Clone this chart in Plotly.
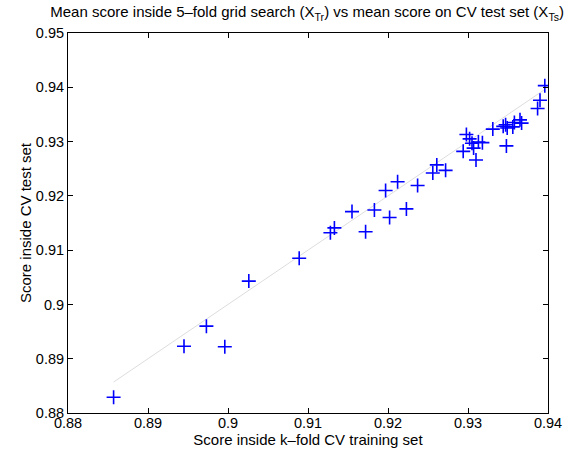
import plotly.graph_objects as go

train_scores = [0.8857, 0.8945, 0.8973, 0.8996, 0.9026, 0.9089, 0.9128, 0.9133, 0.9155, 0.9172,
                0.9183, 0.9197, 0.9202, 0.9212, 0.9223, 0.9237, 0.9256, 0.9261, 0.9272, 0.9294,
                0.9298, 0.9302, 0.9305, 0.9307, 0.9310, 0.9313, 0.9318, 0.9331, 0.9344, 0.9347,
                0.9349, 0.9348, 0.9356, 0.9358, 0.9365, 0.9367, 0.9387, 0.9390, 0.9396]
test_scores = [0.8829, 0.8923, 0.8960, 0.8922, 0.9043, 0.9085, 0.9132, 0.9141, 0.9171, 0.9134,
               0.9174, 0.9210, 0.9160, 0.9226, 0.9176, 0.9219, 0.9242, 0.9257, 0.9247, 0.9282,
               0.9313, 0.9305, 0.9297, 0.9288, 0.9266, 0.9299, 0.9298, 0.9323, 0.9328, 0.9331,
               0.9325, 0.9292, 0.9327, 0.9335, 0.9340, 0.9334, 0.9361, 0.9376, 0.9403]

x_ticks = [0.88, 0.89, 0.90, 0.91, 0.92, 0.93, 0.94]
x_tick_labels = ["0.88", "0.89", "0.9", "0.91", "0.92", "0.93", "0.94"]
y_ticks = [0.88, 0.89, 0.90, 0.91, 0.92, 0.93, 0.94, 0.95]
y_tick_labels = ["0.88", "0.89", "0.9", "0.91", "0.92", "0.93", "0.94", "0.95"]

lo, hi = min(train_scores), max(train_scores)

fig = go.Figure()
fig.add_trace(go.Scatter(x=[lo, hi], y=[lo, hi], mode="lines",
                         line=dict(color="#dddddd", width=1), showlegend=False, hoverinfo="skip"))
fig.add_trace(go.Scatter(x=train_scores, y=test_scores, mode="markers",
                         marker=dict(symbol="cross-thin-open", size=10, color="blue",
                                     line=dict(color="blue", width=1.6)),
                         showlegend=False))

axis_common = dict(showgrid=False, zeroline=False, showline=True, linecolor="black", linewidth=1,
                   mirror="allticks", ticks="inside", ticklen=5, tickcolor="black", tickwidth=1,
                   tickfont=dict(size=14.5, color="black"))

fig.update_layout(
    width=574, height=460,
    margin=dict(l=68, r=24, t=33, b=47),
    paper_bgcolor="white", plot_bgcolor="white",
    font=dict(family="Liberation Sans, Arial, sans-serif", size=15, color="black"),
    title=dict(text="Mean score inside 5–fold grid search (X<sub>Tr</sub>) vs mean score on CV test set (X<sub>Ts</sub>)",
               x=0.535, xanchor="center", y=0.985, yanchor="top", font=dict(size=15)),
    xaxis=dict(range=[0.88, 0.94], tickvals=x_ticks, ticktext=x_tick_labels, ticklabelstandoff=-3,
               title=dict(text="Score inside k–fold CV training set", standoff=2, font=dict(size=15)),
               **axis_common),
    yaxis=dict(range=[0.88, 0.95], tickvals=y_ticks, ticktext=y_tick_labels,
               title=dict(text="Score inside CV test set", standoff=0, font=dict(size=15)),
               **axis_common),
)

fig.write_html("out.html")
